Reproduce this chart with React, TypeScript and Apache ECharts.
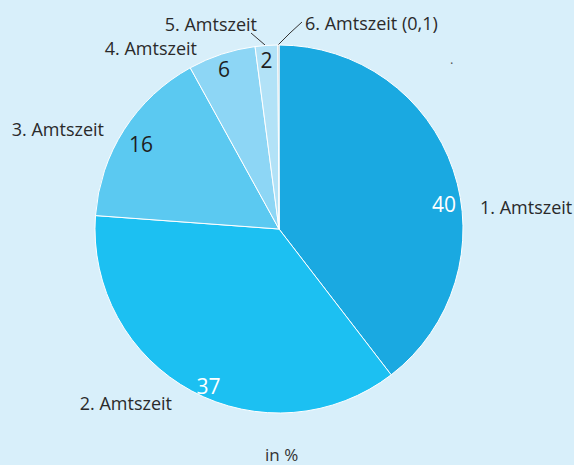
import React, { useEffect, useRef } from "react";
import * as echarts from "echarts";

const categories = ["1. Amtszeit", "2. Amtszeit", "3. Amtszeit", "4. Amtszeit", "5. Amtszeit", "6. Amtszeit (0,1)"];
const values = [40, 37, 16, 6, 2, 0.1];
const valueLabels = ["40", "37", "16", "6", "2", ""];
const colors = ["#1aa9e1", "#1cc0f2", "#5bc9f1", "#8dd6f5", "#b2e2f7", "#9aa4a9"];
const valueColors = ["#ffffff", "#ffffff", "#1e1e1e", "#1e1e1e", "#1e1e1e", "#1e1e1e"];
const unitText = "in %";

// label placement (layout only)
const nameLayout = [
  { x: 480, y: 207, align: "left" },
  { x: 172, y: 403, align: "right" },
  { x: 104, y: 129, align: "right" },
  { x: 197, y: 48, align: "right" },
  { x: 257, y: 24, align: "right" },
  { x: 305, y: 23, align: "left" },
];
const nameLines: Record<number, number[][]> = {
  4: [[265, 45], [258, 39], [251, 33]],
  5: [[278, 45], [290, 33], [302, 22]],
};
const valueShift = [
  [4, 30],
  [10, 7],
  [5, 7],
  [-2, 2],
  [-1, 1],
  [0, 0],
];

export default function App() {
  const ref = useRef<HTMLDivElement>(null);
  useEffect(() => {
    if (!ref.current) return;
    const chart = echarts.init(ref.current, undefined, { renderer: "svg" });
    const font = "'Open Sans', 'Noto Sans', sans-serif";
    chart.setOption({
      animation: false,
      backgroundColor: "#d8effa",
      graphic: [
        {
          type: "text",
          left: 265,
          top: 446,
          style: { text: unitText, fill: "#333", font: `17px ${font}` },
        },
        {
          type: "text",
          left: 450,
          top: 52,
          style: { text: ".", fill: "#555", font: `13px ${font}` },
        },
      ],
      series: [
        {
          type: "pie",
          center: [279, 229],
          radius: [0, 184],
          startAngle: 90,
          clockwise: true,
          silent: true,
          data: categories.map((c, i) => ({
            name: c,
            value: values[i],
            itemStyle: { color: colors[i] },
          })),
          itemStyle: { borderColor: "#ffffff", borderWidth: 1 },
          label: {
            show: true,
            position: "outside",
            formatter: "{b}",
            color: "#2a2a2a",
            fontFamily: font,
            fontSize: 18,
            overflow: "none",
          },
          labelLine: { show: true, lineStyle: { color: "#333", width: 1 } },
          labelLayout: (p: any) => {
            const i = p.dataIndex;
            const l = nameLayout[i];
            const o: any = { x: l.x, y: l.y, align: l.align, verticalAlign: "middle" };
            if (nameLines[i]) o.labelLinePoints = nameLines[i];
            else o.labelLinePoints = [[0, 0], [0, 0], [0, 0]];
            return o;
          },
        },
        {
          type: "pie",
          center: [279, 229],
          radius: [150, 184],
          startAngle: 90,
          clockwise: true,
          silent: true,
          data: categories.map((c, i) => ({
            name: c,
            value: values[i],
            itemStyle: { color: "rgba(0,0,0,0)", borderWidth: 0 },
            label: { color: valueColors[i] },
          })),
          label: {
            show: true,
            position: "inside",
            formatter: (p: any) => valueLabels[p.dataIndex],
            fontFamily: font,
            fontSize: 21,
          },
          labelLine: { show: false },
          labelLayout: (p: any) => ({
            dx: valueShift[p.dataIndex][0],
            dy: valueShift[p.dataIndex][1],
          }),
        },
      ],
    });
    return () => chart.dispose();
  }, []);
  return (
    <div
      ref={ref}
      style={{ position: "fixed", left: 0, top: 0, width: 574, height: 465 }}
    />
  );
}
